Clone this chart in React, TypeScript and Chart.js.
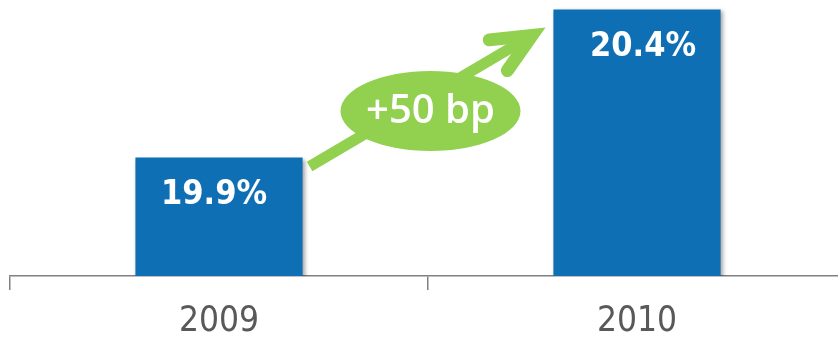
import React, { useEffect, useRef } from "react";
import { Chart, registerables } from "chart.js";

Chart.register(...registerables);

const categories: string[] = ["2009", "2010"];
const values: number[] = [19.9, 20.4];
const valueLabels: string[] = ["19.9%", "20.4%"];
const changeLabel = "+50 bp";

const BAR_COLOR = "#0F6FB4";
const GREEN = "#92D050";

const barShadow = {
  id: "barShadow",
  beforeDatasetDraw(chart: any) {
    const ctx = chart.ctx;
    ctx.save();
    ctx.shadowColor = "rgba(0,0,0,0.35)";
    ctx.shadowBlur = 4;
    ctx.shadowOffsetX = 2;
    ctx.shadowOffsetY = 2;
  },
  afterDatasetDraw(chart: any) {
    chart.ctx.restore();
  },
};

const annotations = {
  id: "annotations",
  afterDatasetsDraw(chart: any) {
    const ctx = chart.ctx;
    const bars = chart.getDatasetMeta(0).data;
    // value labels
    ctx.save();
    ctx.fillStyle = "#ffffff";
    ctx.font = "bold 34px 'DejaVu Sans Condensed', 'DejaVu Sans', sans-serif";
    ctx.textAlign = "center";
    ctx.textBaseline = "middle";
    bars.forEach((b: any, i: number) => {
      ctx.fillText(valueLabels[i], b.x + (i === 0 ? -5 : 6), b.y + 38);
    });
    ctx.restore();

    // arrow
    const b0 = bars[0];
    const b1 = bars[1];
    const sx = b0.x + b0.width / 2 + 7;
    const sy = b0.y + 9;
    const tx = b1.x - b1.width / 2 - 8;
    const ty = b1.y + 18;
    const ang = Math.atan2(ty - sy, tx - sx);
    const ux = Math.cos(ang);
    const uy = Math.sin(ang);
    ctx.save();
    ctx.strokeStyle = GREEN;
    ctx.fillStyle = GREEN;
    ctx.lineWidth = 11;
    ctx.lineCap = "butt";
    ctx.beginPath();
    ctx.moveTo(sx, sy);
    ctx.lineTo(tx - ux * 20, ty - uy * 20);
    ctx.stroke();
    // arrowhead
    const back = ang + Math.PI;
    const spread = (24.5 * Math.PI) / 180;
    const armLen = 43;
    const vx = tx - ux * 15.5;
    const vy = ty - uy * 15.5;
    ctx.lineWidth = 13;
    ctx.lineCap = "round";
    ctx.lineJoin = "miter";
    ctx.miterLimit = 10;
    ctx.beginPath();
    ctx.moveTo(vx + Math.cos(back + spread) * armLen, vy + Math.sin(back + spread) * armLen);
    ctx.lineTo(vx, vy);
    ctx.lineTo(vx + Math.cos(back - spread) * armLen, vy + Math.sin(back - spread) * armLen);
    ctx.stroke();
    // ellipse
    const cx = (sx + tx) / 2 + 3;
    const cy = (sy + ty) / 2 + 14;
    ctx.beginPath();
    ctx.ellipse(cx, cy, 90, 40, 0, 0, Math.PI * 2);
    ctx.fill();
    ctx.fillStyle = "#ffffff";
    ctx.font = "600 40px 'Open Sans', sans-serif";
    ctx.textAlign = "center";
    ctx.textBaseline = "middle";
    ctx.fillText(changeLabel, cx, cy + 1);
    ctx.restore();
  },
};

export default function App() {
  const ref = useRef<HTMLCanvasElement | null>(null);
  useEffect(() => {
    if (!ref.current) return;
    const chart = new Chart(ref.current, {
      type: "bar",
      data: {
        labels: categories,
        datasets: [
          {
            data: values,
            backgroundColor: BAR_COLOR,
            borderWidth: 0,
            barPercentage: 0.5,
            categoryPercentage: 0.8,
          },
        ],
      },
      options: {
        animation: false,
        responsive: false,
        maintainAspectRatio: false,
        layout: { padding: { left: 10, right: 0, top: 0, bottom: 0 } },
        plugins: {
          legend: { display: false },
          tooltip: { enabled: false },
        },
        scales: {
          y: {
            display: false,
            min: 19.5,
            max: 20.432,
          },
          x: {
            afterFit: (s: any) => {
              s.height = 63;
            },
            grid: {
              offset: true,
              drawOnChartArea: false,
              drawTicks: true,
              tickLength: 14,
              color: "#808080",
              lineWidth: 1.5,
            },
            border: { display: true, color: "#808080", width: 1.5 },
            ticks: {
              color: "#595959",
              padding: 11,
              font: {
                family: "'DejaVu Sans Condensed', 'DejaVu Sans', sans-serif",
                size: 35,
              },
            },
          },
        },
      },
      plugins: [barShadow, annotations],
    });
    return () => chart.destroy();
  }, []);
  return (
    <div
      style={{
        position: "fixed",
        left: 0,
        top: 0,
        width: 838,
        height: 339,
        overflow: "hidden",
        background: "#fff",
      }}
    >
      <canvas ref={ref} width={846} height={339} style={{ display: "block" }} />
    </div>
  );
}
